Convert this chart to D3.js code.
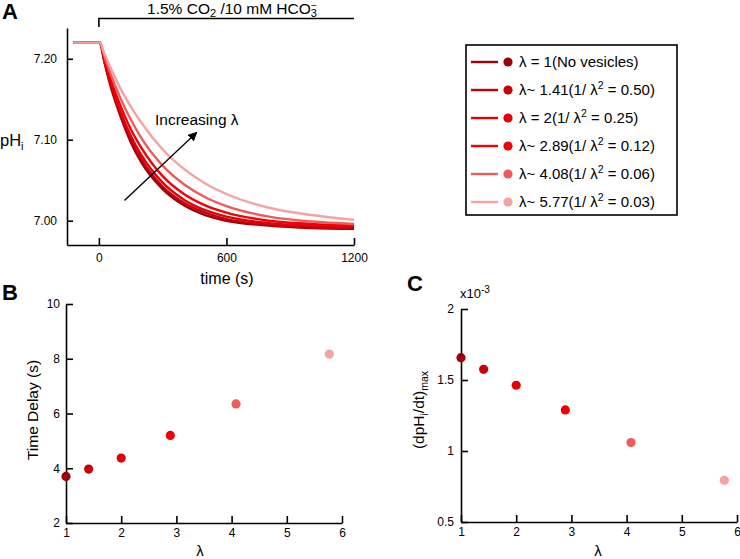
<!DOCTYPE html>
<html>
<head>
<meta charset="utf-8">
<script src="https://cdn.jsdelivr.net/npm/d3@7"></script>
<style>
  body { margin: 0; background: #fff; }
  text { font-family: "Liberation Sans", Arial, Helvetica, sans-serif; fill: #000; }
</style>
</head>
<body>
<svg id="chart" width="740" height="559"></svg>
<script>
// ---- data ----
const times = [-120, 5, 25, 50, 100, 150, 200, 300, 400, 500, 600, 800, 1000, 1200]
const ph1 = [7.22, 7.22, 7.197, 7.171, 7.130, 7.097, 7.072, 7.039, 7.019, 7.007, 7.000, 6.994, 6.991, 6.990]
const ph2 = [7.22, 7.22, 7.198, 7.173, 7.132, 7.101, 7.076, 7.042, 7.022, 7.010, 7.002, 6.995, 6.992, 6.991]
const ph3 = [7.22, 7.22, 7.199, 7.176, 7.136, 7.105, 7.081, 7.047, 7.026, 7.013, 7.005, 6.997, 6.994, 6.993]
const ph4 = [7.22, 7.22, 7.201, 7.179, 7.143, 7.113, 7.090, 7.055, 7.033, 7.019, 7.010, 7.000, 6.996, 6.994]
const ph5 = [7.22, 7.22, 7.204, 7.185, 7.152, 7.125, 7.102, 7.068, 7.045, 7.029, 7.018, 7.005, 6.999, 6.996]
const ph6 = [7.22, 7.22, 7.207, 7.192, 7.164, 7.141, 7.121, 7.088, 7.064, 7.046, 7.033, 7.016, 7.007, 7.001]
const curves = [ph1, ph2, ph3, ph4, ph5, ph6]

const lambdas = [1, 1.41, 2, 2.89, 4.08, 5.77]
const timeDelay = [3.7, 3.97, 4.37, 5.2, 6.35, 8.17]
const dphMax = [1.657, 1.575, 1.463, 1.289, 1.059, 0.794]   // x10^-3

const legendLambda = [" = 1", "~ 1.41", " = 2", "~ 2.89", "~ 4.08", "~ 5.77"]
const legendInvSq = [null, "0.50", "0.25", "0.12", "0.06", "0.03"]

const colors = ["#9c0008", "#c60008", "#e2000a", "#f20008", "#f05a5a", "#f5a2a2"]

const ticksA_x = [0, 600, 1200]
const ticksA_y = [7.00, 7.10, 7.20]
const ticksB_x = [1, 2, 3, 4, 5, 6]
const ticksB_y = [2, 4, 6, 8, 10]
const ticksC_y = [0.5, 1, 1.5, 2]

const svg = d3.select('#chart')
const FONT = '"Liberation Sans", Arial, Helvetica, sans-serif'
const plain = d3.format('')

function styleAxis(g, fs) {
    g.attr('font-family', FONT).attr('font-size', fs)
    g.select('.domain').attr('stroke', '#000').attr('stroke-width', 1.6)
    g.selectAll('.tick line').attr('stroke', '#000').attr('stroke-width', 1.6)
    g.selectAll('.tick text').attr('fill', '#000')
}

// ================= panel A =================
const xA = d3.scaleLinear().domain([-150, 1200]).range([67, 354])
const yA = d3.scaleLinear().domain([6.97, 7.238]).range([245, 28])

svg.append('g')
    .attr('transform', 'translate(0,245)')
    .call(d3.axisBottom(xA).tickValues(ticksA_x).tickFormat(plain).tickSizeInner(-7).tickSizeOuter(0).tickPadding(8))
    .call(g => styleAxis(g, 12))
svg.append('g')
    .attr('transform', 'translate(67,0)')
    .call(d3.axisLeft(yA).tickValues(ticksA_y).tickFormat(d3.format('.2f')).tickSizeInner(-6).tickSizeOuter(0).tickPadding(10))
    .call(g => styleAxis(g, 12))

const lineA = d3.line()
    .x((d, i) => xA(times[i]))
    .y(d => yA(d))
    .curve(d3.curveMonotoneX)

svg.append('g').selectAll('path')
    .data(curves)
    .join('path')
    .attr('d', lineA)
    .attr('fill', 'none')
    .attr('stroke', (d, i) => colors[i])
    .attr('stroke-width', 2.4)

// bracket above
svg.append('path')
    .attr('d', 'M' + xA(0) + ',27V18.5H' + xA(1200))
    .attr('fill', 'none')
    .attr('stroke', '#000')
    .attr('stroke-width', 1.6)
const cond = svg.append('text').attr('x', 232).attr('y', 14).attr('text-anchor', 'middle').attr('font-size', 15.5)
cond.append('tspan').text('1.5% CO')
cond.append('tspan').text('2').attr('font-size', 11).attr('dy', 2.5)
cond.append('tspan').text(' /10 mM HCO').attr('dy', -2.5)
cond.append('tspan').text('3').attr('font-size', 11).attr('dy', 2.5)
cond.append('tspan').text('\u2212').attr('font-size', 10).attr('dx', -6).attr('dy', -7.5)

svg.append('text').attr('x', 2).attr('y', 19).attr('font-size', 22).attr('font-weight', 'bold').text('A')

const phLab = svg.append('text').attr('x', 0).attr('y', 146).attr('font-size', 16.5)
phLab.append('tspan').text('pH')
phLab.append('tspan').text('i').attr('font-size', 11).attr('dy', 4)

svg.append('text').attr('x', 227).attr('y', 284).attr('text-anchor', 'middle').attr('font-size', 16).text('time (s)')

// arrow
svg.append('defs').append('marker')
    .attr('id', 'arrow')
    .attr('viewBox', '0 0 10 10')
    .attr('refX', 9).attr('refY', 5)
    .attr('markerWidth', 7).attr('markerHeight', 7)
    .attr('orient', 'auto')
    .append('path').attr('d', 'M0,0L10,5L0,10Z').attr('fill', '#000')
svg.append('line')
    .attr('x1', xA(120)).attr('y1', yA(7.025))
    .attr('x2', xA(460)).attr('y2', yA(7.109))
    .attr('stroke', '#000').attr('stroke-width', 1.3)
    .attr('marker-end', 'url(#arrow)')
svg.append('text').attr('x', 155).attr('y', 125).attr('font-size', 15.5).text('Increasing \u03bb')

// legend
const leg = svg.append('g')
leg.append('rect')
    .attr('x', 466).attr('y', 45).attr('width', 211).attr('height', 170)
    .attr('fill', '#fff').attr('stroke', '#000').attr('stroke-width', 1.6)
lambdas.forEach((l, i) => {
    const yy = 62 + i * 28
    leg.append('line').attr('x1', 471).attr('x2', 498).attr('y1', yy).attr('y2', yy)
        .attr('stroke', colors[i]).attr('stroke-width', 2.4)
    leg.append('circle').attr('cx', 508).attr('cy', yy).attr('r', 4.6).attr('fill', colors[i])
    const t = leg.append('text').attr('x', 519).attr('y', yy + 5).attr('font-size', 15)
    if (legendInvSq[i] === null) {
        t.text('\u03bb' + legendLambda[i] + '(No vesicles)')
    } else {
        t.append('tspan').text('\u03bb' + legendLambda[i] + '(1/ \u03bb')
        t.append('tspan').text('2').attr('font-size', 10.5).attr('dy', -6)
        t.append('tspan').text(' = ' + legendInvSq[i] + ')').attr('dy', 6)
    }
})

// ================= panel B =================
const xB = d3.scaleLinear().domain([1, 6]).range([66, 342])
const yB = d3.scaleLinear().domain([2, 10]).range([523, 304])

svg.append('g')
    .attr('transform', 'translate(0,523)')
    .call(d3.axisBottom(xB).tickValues(ticksB_x).tickFormat(plain).tickSizeInner(-7).tickSizeOuter(0).tickPadding(5))
    .call(g => styleAxis(g, 12))
svg.append('g')
    .attr('transform', 'translate(66,0)')
    .call(d3.axisLeft(yB).tickValues(ticksB_y).tickFormat(plain).tickSizeInner(-7).tickSizeOuter(0).tickPadding(6))
    .call(g => styleAxis(g, 12))

svg.append('g').selectAll('circle')
    .data(lambdas)
    .join('circle')
    .attr('cx', d => xB(d))
    .attr('cy', (d, i) => yB(timeDelay[i]))
    .attr('r', 4.6)
    .attr('fill', (d, i) => colors[i])

svg.append('text').attr('x', 2).attr('y', 300).attr('font-size', 22).attr('font-weight', 'bold').text('B')
svg.append('text').attr('transform', 'translate(38,410) rotate(-90)').attr('text-anchor', 'middle')
    .attr('font-size', 15.5).text('Time Delay (s)')
svg.append('text').attr('x', 200).attr('y', 556).attr('text-anchor', 'middle').attr('font-size', 15).text('\u03bb')

// ================= panel C =================
const xC = d3.scaleLinear().domain([1, 6]).range([461, 737])
const yC = d3.scaleLinear().domain([0.5, 2]).range([522, 309])

svg.append('g')
    .attr('transform', 'translate(0,522)')
    .call(d3.axisBottom(xC).tickValues(ticksB_x).tickFormat(plain).tickSizeInner(-7).tickSizeOuter(0).tickPadding(5))
    .call(g => styleAxis(g, 12))
svg.append('g')
    .attr('transform', 'translate(461,0)')
    .call(d3.axisLeft(yC).tickValues(ticksC_y).tickFormat(plain).tickSizeInner(-7).tickSizeOuter(0).tickPadding(7))
    .call(g => styleAxis(g, 12))

svg.append('g').selectAll('circle')
    .data(lambdas)
    .join('circle')
    .attr('cx', d => xC(d))
    .attr('cy', (d, i) => yC(dphMax[i]))
    .attr('r', 4.6)
    .attr('fill', (d, i) => colors[i])

svg.append('text').attr('x', 407).attr('y', 291).attr('font-size', 22).attr('font-weight', 'bold').text('C')
const expo = svg.append('text').attr('x', 460).attr('y', 298).attr('font-size', 13)
expo.append('tspan').text('x10')
expo.append('tspan').text('-3').attr('font-size', 10).attr('dy', -5)

const cLab = svg.append('text').attr('transform', 'translate(424,410) rotate(-90)').attr('text-anchor', 'middle')
    .attr('font-size', 15.5)
cLab.append('tspan').text('(dpH')
cLab.append('tspan').text('i').attr('font-size', 10.5).attr('dy', 4)
cLab.append('tspan').text('/dt)').attr('dy', -4)
cLab.append('tspan').text('max').attr('font-size', 10.5).attr('dy', 4)

svg.append('text').attr('x', 598).attr('y', 556).attr('text-anchor', 'middle').attr('font-size', 15).text('\u03bb')
</script>
</body>
</html>
